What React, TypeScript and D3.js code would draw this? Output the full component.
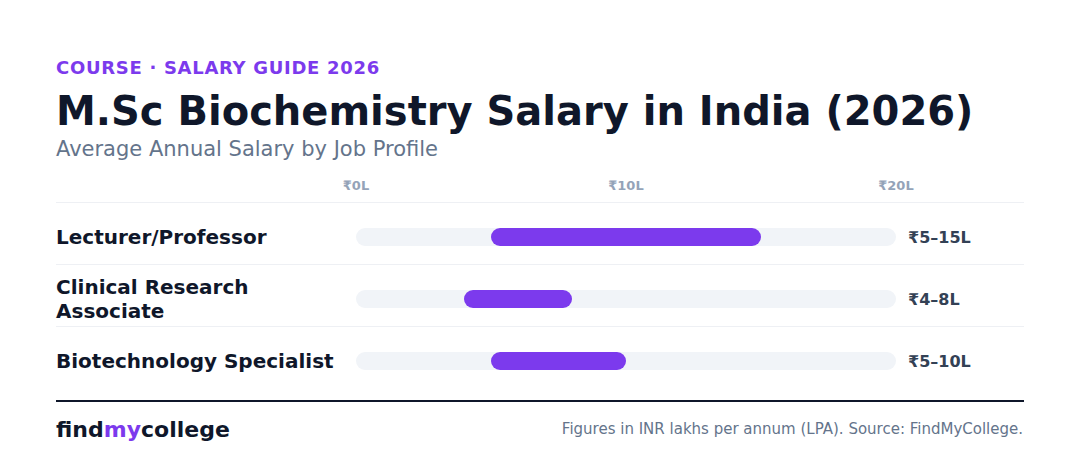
import React from "react";
import * as d3 from "d3";

const categories = ["Lecturer/Professor", "Clinical Research Associate", "Biotechnology Specialist"];
const labelLines = [["Lecturer/Professor"], ["Clinical Research", "Associate"], ["Biotechnology Specialist"]];
const minValues = [5, 4, 5];
const maxValues = [15, 8, 10];
const valueLabels = ["₹5–15L", "₹4–8L", "₹5–10L"];
const tickValues = [0, 10, 20];
const tickLabels = ["₹0L", "₹10L", "₹20L"];

const W = 1080;
const H = 474;
const FONT = "DejaVu Sans, sans-serif";

export default function App() {
  const x = d3.scaleLinear().domain([0, 20]).range([356, 896]);
  const y = d3.scaleBand<string>().domain(categories).range([202, 388]);
  const barH = 18;

  return (
    <svg width={W} height={H} style={{ position: "absolute", left: 0, top: 0, background: "#fff" }} fontFamily={FONT}>
      <rect x={0} y={0} width={W} height={H} fill="#fff" />
      <text x={56} y={74} fontSize={18} fontWeight={700} fill="#7c3aed" letterSpacing={0.7}>
        COURSE · SALARY GUIDE 2026
      </text>
      <text x={56} y={125} fontSize={40} fontWeight={700} fill="#0f172a">
        M.Sc Biochemistry Salary in India (2026)
      </text>
      <text x={56} y={156} fontSize={21} fill="#64748b">
        Average Annual Salary by Job Profile
      </text>

      {tickValues.map((t, i) => (
        <text key={t} x={x(t)} y={190} fontSize={13} fontWeight={700} fill="#94a3b8" textAnchor="middle">
          {tickLabels[i]}
        </text>
      ))}
      <line x1={56} x2={1024} y1={202.5} y2={202.5} stroke="#eef0f4" strokeWidth={1} />

      {categories.map((c, i) => {
        const y0 = y(c)!;
        const cy = y0 + y.bandwidth() / 2 + 4;
        const lines = labelLines[i];
        return (
          <g key={c}>
            {i < categories.length - 1 && (
              <line x1={56} x2={1024} y1={y0 + y.bandwidth() + 0.5} y2={y0 + y.bandwidth() + 0.5} stroke="#eef0f4" strokeWidth={1} />
            )}
            {lines.map((l, j) => (
              <text key={j} x={56} y={cy + 7 + (j - (lines.length - 1) / 2) * 24} fontSize={20} fontWeight={700} fill="#0f172a">
                {l}
              </text>
            ))}
            <rect x={x(0)} y={cy - barH / 2} width={x(20) - x(0)} height={barH} rx={barH / 2} fill="#f1f4f8" />
            <rect x={x(minValues[i])} y={cy - barH / 2} width={x(maxValues[i]) - x(minValues[i])} height={barH} rx={barH / 2} fill="#7c3aed" />
            <text x={908} y={cy + 6} fontSize={16} fontWeight={700} fill="#334155">
              {valueLabels[i]}
            </text>
          </g>
        );
      })}

      <line x1={56} x2={1024} y1={401} y2={401} stroke="#0f172a" strokeWidth={2} />
      <text x={56} y={437} fontSize={22} fontWeight={700} fill="#0f172a">
        find<tspan fill="#7c3aed">my</tspan>college
      </text>
      <text x={1023} y={434} fontSize={15} fill="#64748b" textAnchor="end">
        Figures in INR lakhs per annum (LPA). Source: FindMyCollege.
      </text>
    </svg>
  );
}
